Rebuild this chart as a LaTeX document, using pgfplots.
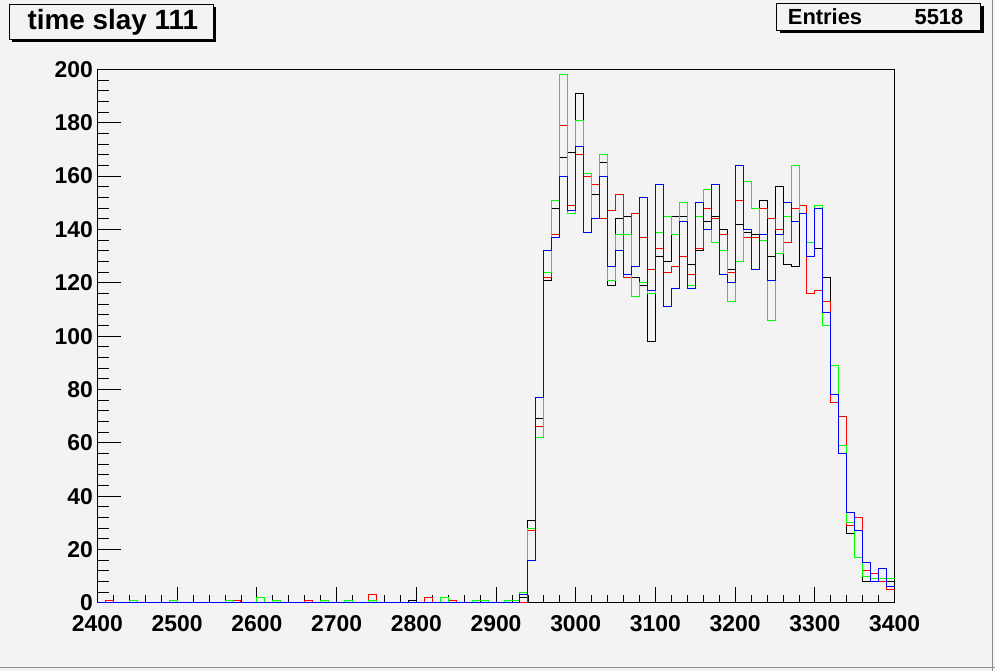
\documentclass[border=0pt]{standalone}
\usepackage{fontspec}
\setmainfont{Liberation Sans}
\usepackage{pgfplots}
\pgfplotsset{compat=1.18}
\definecolor{bg}{RGB}{243,243,243}
\definecolor{hgreen}{RGB}{0,255,0}
\definecolor{hblue}{RGB}{0,0,255}
\definecolor{hred}{RGB}{255,0,0}

% bin contents, 10 wide bins from 2400 to 3400 (left edges)
\pgfplotstableread{
x    v
2400 0
2790 1
2800 0
2930 2
2940 31
2950 69
2960 121
2970 148
2980 167
2990 169
3000 191
3010 139
3020 153
3030 165
3040 119
3050 144
3060 145
3070 122
3080 119
3090 98
3100 130
3110 128
3120 145
3130 145
3140 127
3150 132
3160 143
3170 145
3180 140
3190 125
3200 142
3210 139
3220 138
3230 151
3240 130
3250 156
3260 127
3270 126
3280 146
3290 130
3300 133
3310 122
3320 78
3330 56
3340 26
3350 27
3360 8
3370 8
3380 13
3390 8
3400 8
}\hblack

\pgfplotstableread{
x    v
2400 0
2410 1
2420 0
2570 1
2580 0
2660 1
2670 0
2740 3
2750 0
2810 2
2820 0
2840 1
2850 0
2940 27
2950 66
2960 122
2970 138
2980 179
2990 149
3000 168
3010 160
3020 157
3030 144
3040 147
3050 153
3060 122
3070 146
3080 137
3090 125
3100 133
3110 124
3120 126
3130 130
3140 123
3150 133
3160 148
3170 144
3180 138
3190 124
3200 151
3210 137
3220 137
3230 148
3240 144
3250 140
3260 135
3270 148
3280 149
3290 116
3300 117
3310 113
3320 75
3330 70
3340 29
3350 32
3360 12
3370 11
3380 8
3390 5
3400 5
}\hredtab

\pgfplotstableread{
x    v
2400 0
2440 1
2450 0
2490 1
2500 0
2560 1
2570 0
2600 2
2610 0
2620 1
2630 0
2680 1
2690 0
2710 1
2720 0
2740 1
2750 0
2830 2
2840 0
2870 1
2880 1
2890 0
2910 1
2920 1
2930 4
2940 28
2950 62
2960 124
2970 151
2980 198
2990 146
3000 181
3010 161
3020 144
3030 168
3040 121
3050 138
3060 138
3070 115
3080 120
3090 116
3100 139
3110 145
3120 138
3130 150
3140 119
3150 145
3160 155
3170 135
3180 132
3190 113
3200 128
3210 158
3220 148
3230 136
3240 106
3250 131
3260 145
3270 164
3280 146
3290 135
3300 149
3310 104
3320 89
3330 59
3340 30
3350 17
3360 10
3370 9
3380 9
3390 9
3400 9
}\hgreentab

\pgfplotstableread{
x    v
2400 0
2930 3
2940 16
2950 77
2960 132
2970 137
2980 160
2990 147
3000 171
3010 139
3020 144
3030 160
3040 126
3050 132
3060 123
3070 126
3080 152
3090 117
3100 157
3110 111
3120 118
3130 143
3140 118
3150 150
3160 140
3170 157
3180 123
3190 120
3200 164
3210 140
3220 125
3230 138
3240 121
3250 138
3260 150
3270 143
3280 146
3290 130
3300 148
3310 109
3320 78
3330 56
3340 34
3350 27
3360 15
3370 8
3380 13
3390 6
3400 6
}\hbluetab

\begin{document}
\begin{tikzpicture}[x=1bp,y=1bp]
\fill[bg] (0,0) rectangle (995,671);
\draw[black!45,line width=1bp] (992.5,0) -- (992.5,671);
\draw[black!45,line width=1bp] (0,3) -- (995,3);

\begin{axis}[
    at={(97bp,68bp)}, anchor=south west,
    width=798bp, height=534bp, scale only axis,
    xmin=2400, xmax=3400, ymin=0, ymax=200,
    xtick={2400,2500,...,3400},
    ytick={0,20,...,200},
    minor x tick num=4, minor y tick num=4,
    xtick pos=bottom, ytick pos=left,
    tick align=inside,
    xtick style={/pgfplots/major tick length=16bp, /pgfplots/minor tick length=8bp, line width=0.8bp, black},
    ytick style={/pgfplots/major tick length=24bp, /pgfplots/minor tick length=12bp, line width=0.8bp, black},
    axis line style={line width=1.1bp},
    axis background/.style={fill=bg},
    ticklabel style={font=\fontsize{23}{23}\selectfont\bfseries, inner ysep=0.5bp},
    xticklabel style={yshift=-12bp},
    yticklabel style={xshift=-1bp},
    /pgf/number format/assume math mode=true,
    /pgf/number format/1000 sep={},
    clip=false,
    every axis plot/.append style={const plot mark left, no marks, line width=0.9bp},
]
\addplot[black] table[x=x,y=v] {\hblack};
\addplot[hred] table[x=x,y=v] {\hredtab};
\addplot[hgreen] table[x=x,y=v] {\hgreentab};
\addplot[hblue] table[x=x,y=v] {\hbluetab};
\end{axis}

% title box
\fill[black] (12,629) rectangle (216,664);
\draw[line width=1bp, fill=bg] (9,632) rectangle (213,667);
\node[font=\fontsize{28}{28}\selectfont\bfseries, inner sep=0pt] at (112.5,649.5) {time slay 111};

% stats box
\fill[black] (780,638) rectangle (984,665);
\draw[line width=1bp, fill=bg] (777,641) rectangle (981,668);
\node[font=\fontsize{22}{22}\selectfont\bfseries, inner sep=0pt, anchor=west] at (788,654.5) {Entries};
\node[font=\fontsize{22}{22}\selectfont\bfseries, inner sep=0pt, anchor=east] at (964,654.5) {5518};
\end{tikzpicture}
\end{document}
